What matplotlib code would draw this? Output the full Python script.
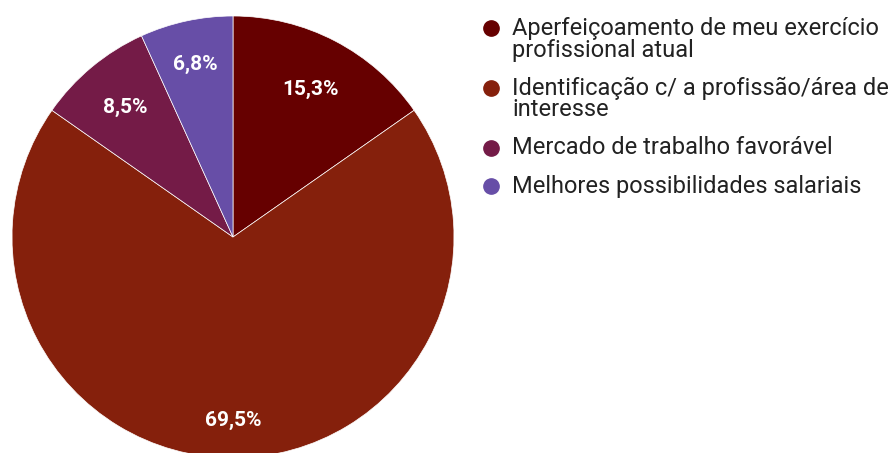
import numpy as np
import matplotlib.pyplot as plt
from matplotlib.lines import Line2D

plt.rcParams['font.family'] = ['Roboto', 'DejaVu Sans']

# dados
categorias = [
    "Aperfeiçoamento de meu exercício\nprofissional atual",
    "Identificação c/ a profissão/área de\ninteresse",
    "Mercado de trabalho favorável",
    "Melhores possibilidades salariais",
]
valores = [15.3, 69.5, 8.5, 6.8]
rotulos = ["15,3%", "69,5%", "8,5%", "6,8%"]
cores = ["#660000", "#85200c", "#741b47", "#674ea7"]
# distancia radial de cada rotulo (fração do raio)
distancias = [0.755, 0.83, 0.76, 0.80]

W, H = 893, 453
fig = plt.figure(figsize=(W / 100, H / 100), dpi=100)

# pizza: centro (233, 237) px, raio 221 px
cx, cy, r = 233, 237, 221
ax = fig.add_axes([(cx - r) / W, (H - cy - r) / H, 2 * r / W, 2 * r / H])
wedges, _ = ax.pie(
    valores, colors=cores, startangle=90, counterclock=False, radius=1,
    wedgeprops=dict(linewidth=0.5, edgecolor="white"),
)
for w, lab, d in zip(wedges, rotulos, distancias):
    ang = np.deg2rad((w.theta1 + w.theta2) / 2)
    ax.text(d * np.cos(ang), d * np.sin(ang), lab, color="white", fontsize=15,
            fontweight="bold", ha="center", va="center")
ax.set_xlim(-1, 1)
ax.set_ylim(-1, 1)
ax.set_aspect("equal")
ax.axis("off")

# legenda (uma linha de texto por vez)
y = 28
for lab, cor in zip(categorias, cores):
    fig.add_artist(Line2D([491 / W], [1 - y / H], marker="o", markersize=11,
                          color=cor, linestyle="none", transform=fig.transFigure))
    linhas = lab.split("\n")
    for i, linha in enumerate(linhas):
        fig.text(512 / W, 1 - (y + 22 * i) / H, linha, fontsize=17, color="#222222",
                 va="center", ha="left", transform=fig.transFigure)
    y += 22 * len(linhas) + 16

fig.savefig("out.png", dpi=100, facecolor="white")
